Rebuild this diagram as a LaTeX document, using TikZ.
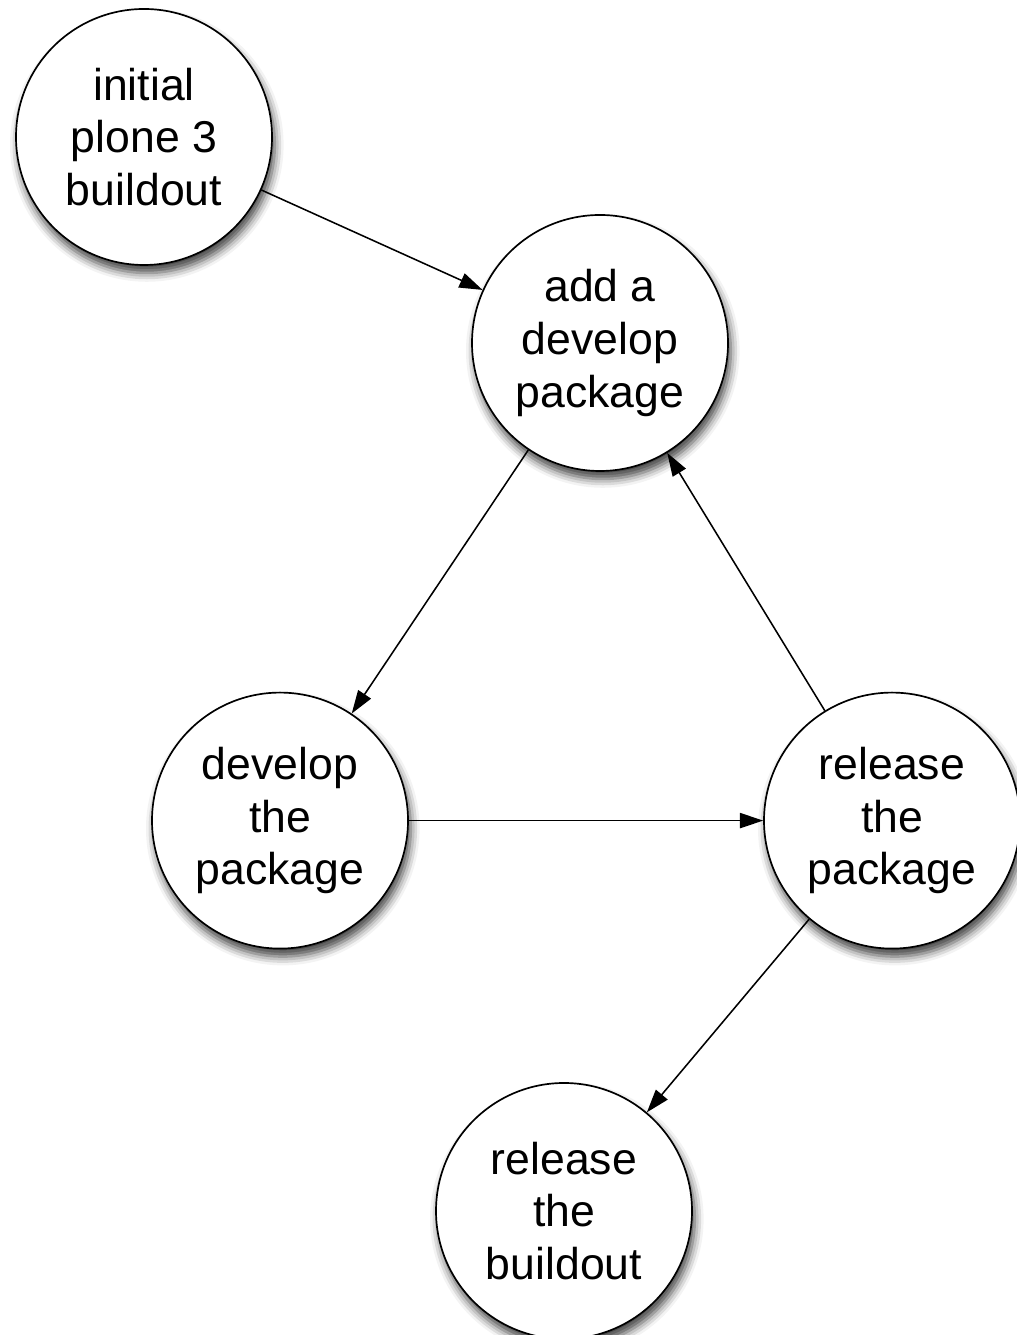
\documentclass[tikz,border=0pt]{standalone}
\usepackage{fontspec}
\setmainfont{Liberation Sans}
\usetikzlibrary{arrows.meta,
                shadows.blur
            }

\begin{document}
\begin{tikzpicture}[
        stage/.style={circle, draw, line width=1.2pt, fill=white, minimum size=6.4cm, inner sep=0pt,
            align=center, font=\fontsize{31.7}{37.6}\selectfont,
            blur shadow={shadow xshift=0.07cm, shadow yshift=-0.2cm, shadow blur radius=0.22cm, shadow opacity=75}},
        flow/.style={line width=1.1pt, -{Triangle[length=0.58cm, width=0.38cm]}}
    ]
            \useasboundingbox (0, 0) rectangle (25.4, 33.375);
            \node[stage] (initial) at (3.6, 29.95) {initial\\plone 3\\buildout};
            \node[stage] (adddev) at (15.0, 24.8) {add a\\develop\\package};
            \node[stage] (devpkg) at (7.0, 12.86) {develop\\the\\package};
            \node[stage] (relpkg) at (22.3, 12.86) {release\\the\\package};
            \node[stage] (relbuild) at (14.1, 3.1) {release\\the\\buildout};
            \draw[flow] (initial) -- (adddev);
            \draw[flow] (adddev) -- (devpkg);
            \draw[flow] (devpkg) -- (relpkg);
            \draw[flow] (relpkg) -- (adddev);
            \draw[flow] (relpkg) -- (relbuild);
        \end{tikzpicture}
\end{document}
